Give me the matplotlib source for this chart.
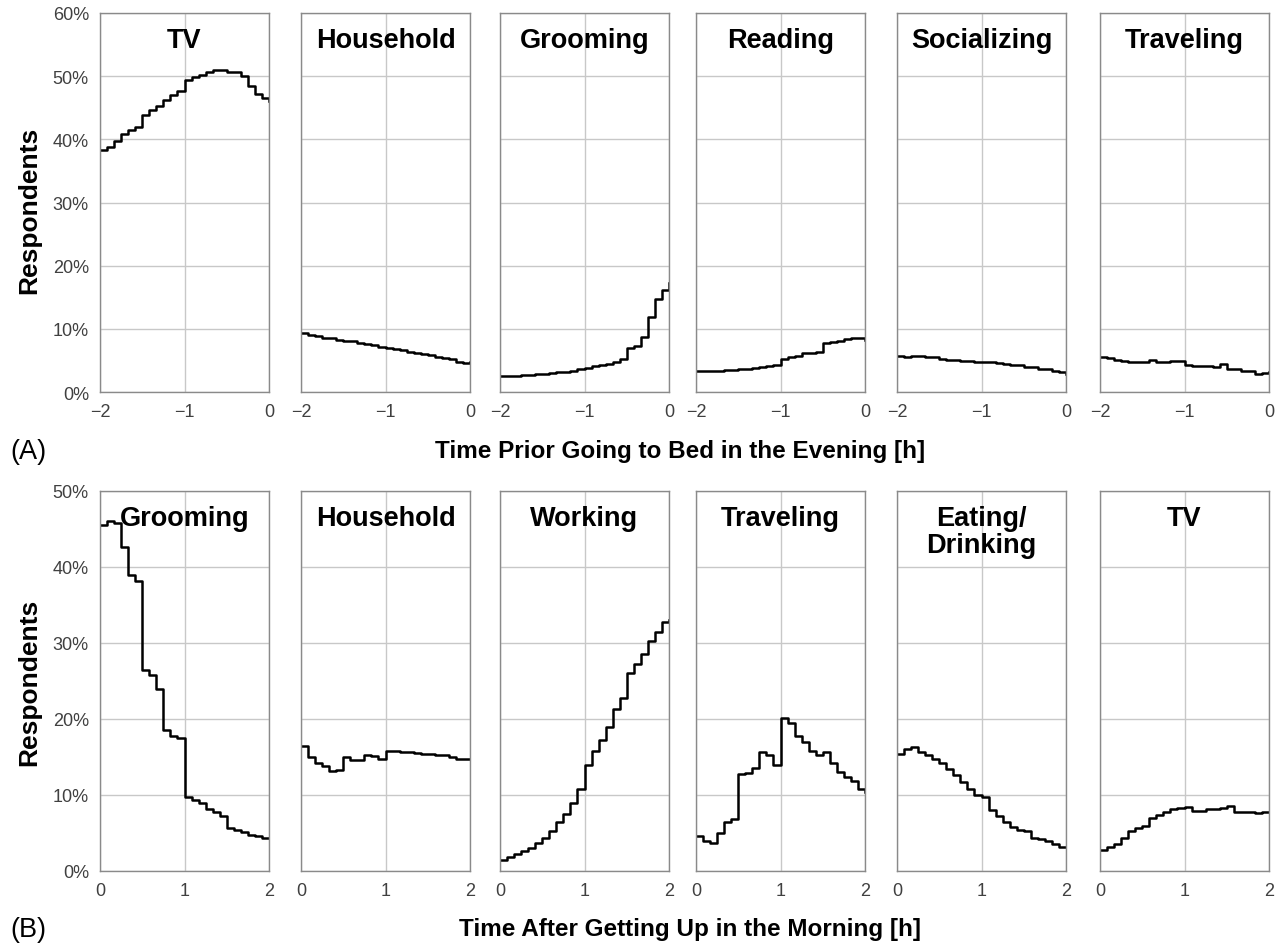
import numpy as np
import matplotlib
matplotlib.use("Agg")
import matplotlib.pyplot as plt
from matplotlib.ticker import FuncFormatter

plt.rcParams["font.family"] = ["Liberation Sans", "DejaVu Sans"]

# share of respondents (%) in 5-minute steps over the two hours
minutes = np.arange(0, 125, 5)

# (A) the two hours before going to bed
eve_titles = ["TV", "Household", "Grooming", "Reading", "Socializing", "Traveling"]
eve_tv = [38.3, 38.8, 39.8, 40.8, 41.5, 42.0, 43.8, 44.6, 45.2, 46.3, 47.0, 47.6,
          49.4, 49.8, 50.2, 50.6, 51.0, 51.0, 50.7, 50.6, 50.0, 48.5, 47.2, 46.5, 46.0]
eve_household = [9.3, 9.0, 8.8, 8.6, 8.5, 8.3, 8.1, 8.0, 7.8, 7.6, 7.4, 7.2,
                 7.0, 6.8, 6.6, 6.4, 6.2, 6.0, 5.9, 5.5, 5.4, 5.2, 4.8, 4.6, 4.8]
eve_grooming = [2.5, 2.5, 2.6, 2.7, 2.7, 2.8, 2.9, 3.0, 3.1, 3.2, 3.4, 3.6,
                3.8, 4.1, 4.3, 4.5, 4.8, 5.2, 6.9, 7.3, 8.7, 11.8, 14.8, 16.2, 17.2]
eve_reading = [3.4, 3.4, 3.4, 3.4, 3.5, 3.5, 3.6, 3.7, 3.8, 4.0, 4.1, 4.3,
               5.3, 5.5, 5.7, 6.1, 6.2, 6.4, 7.8, 7.9, 8.0, 8.4, 8.6, 8.5, 8.2]
eve_socializing = [5.7, 5.6, 5.7, 5.7, 5.6, 5.6, 5.2, 5.1, 5.0, 4.9, 4.9, 4.8,
                   4.7, 4.7, 4.6, 4.5, 4.3, 4.2, 4.0, 3.9, 3.7, 3.6, 3.4, 3.2, 2.9]
eve_traveling = [5.6, 5.4, 5.1, 4.9, 4.7, 4.7, 4.8, 5.0, 4.8, 4.8, 4.9, 4.9,
                 4.2, 4.1, 4.1, 4.1, 4.0, 4.5, 3.6, 3.6, 3.4, 3.3, 2.9, 3.0, 3.2]

# (B) the two hours after getting up
morn_titles = ["Grooming", "Household", "Working", "Traveling", "Eating/\nDrinking", "TV"]
morn_grooming = [45.5, 46.0, 45.8, 42.6, 39.0, 38.2, 26.5, 25.8, 24.0, 18.5, 17.8, 17.5,
                 9.8, 9.4, 9.0, 8.2, 7.7, 7.3, 5.7, 5.4, 5.1, 4.8, 4.6, 4.4, 4.3]
morn_household = [16.4, 15.0, 14.2, 13.8, 13.2, 13.3, 15.0, 14.6, 14.6, 15.3, 15.1, 14.8,
                  15.8, 15.8, 15.7, 15.6, 15.5, 15.4, 15.4, 15.3, 15.2, 15.0, 14.8, 14.7, 14.7]
morn_working = [1.5, 1.8, 2.2, 2.6, 3.0, 3.7, 4.4, 5.3, 6.5, 7.5, 9.0, 10.8,
                14.0, 15.8, 17.2, 19.0, 21.3, 22.7, 26.0, 27.3, 28.5, 30.2, 31.5, 32.7, 33.0]
morn_traveling = [4.6, 4.0, 3.7, 5.0, 6.5, 6.8, 12.8, 12.9, 13.5, 15.6, 15.2, 14.0,
                  20.1, 19.5, 17.8, 17.0, 15.8, 15.2, 15.6, 14.2, 13.0, 12.4, 11.9, 10.8, 10.4]
morn_eating = [15.4, 16.1, 16.3, 15.7, 15.2, 14.8, 14.2, 13.4, 12.6, 11.7, 10.8, 10.0,
               9.8, 8.0, 7.2, 6.4, 5.8, 5.4, 5.2, 4.4, 4.2, 4.0, 3.5, 3.2, 3.2]
morn_tv = [2.8, 3.2, 3.6, 4.3, 5.2, 5.6, 5.9, 7.0, 7.4, 7.8, 8.1, 8.3,
           8.4, 7.9, 7.9, 8.1, 8.2, 8.3, 8.5, 7.7, 7.8, 7.7, 7.6, 7.7, 7.8]

eve_series = [eve_tv, eve_household, eve_grooming, eve_reading, eve_socializing, eve_traveling]
morn_series = [morn_grooming, morn_household, morn_working, morn_traveling, morn_eating, morn_tv]

W, H = 1283, 945
fig = plt.figure(figsize=(W / 100, H / 100), dpi=100)

lefts = [100, 301, 500, 696, 897, 1100]
pw = 169
rows = [
    dict(top=14, bottom=393, ymax=60, x=minutes / 60 - 2, xticks=[-2, -1, 0],
         titles=eve_titles, series=eve_series),
    dict(top=492, bottom=872, ymax=50, x=minutes / 60, xticks=[0, 1, 2],
         titles=morn_titles, series=morn_series),
]

pct = FuncFormatter(lambda v, p: f"{v:.0f}%")

for row in rows:
    for i, (title, ys) in enumerate(zip(row["titles"], row["series"])):
        ax = fig.add_axes([lefts[i] / W, 1 - row["bottom"] / H,
                           pw / W, (row["bottom"] - row["top"]) / H])
        ax.plot(row["x"], ys, drawstyle="steps-post", color="black", lw=1.8)
        ax.set_xlim(row["xticks"][0], row["xticks"][-1])
        ax.set_ylim(0, row["ymax"])
        ax.set_xticks(row["xticks"])
        ax.set_yticks(np.arange(0, row["ymax"] + 1, 10))
        ax.yaxis.set_major_formatter(pct)
        ax.grid(True, color="#c8c8c8", lw=1.0)
        ax.set_axisbelow(True)
        for sp in ax.spines.values():
            sp.set_color("#8a8a8a")
            sp.set_linewidth(1.0)
        ax.tick_params(length=0, labelsize=13, colors="#404040", pad=8)
        if i > 0:
            ax.tick_params(labelleft=False)
        ax.text(0.5, 0.962, title, transform=ax.transAxes, ha="center", va="top",
                fontsize=19.5, fontweight="bold", linespacing=1.05)

fig.text(29 / W, 1 - 210 / H, "Respondents", rotation=90, ha="center", va="center",
         fontsize=19, fontweight="bold")
fig.text(29 / W, 1 - 682 / H, "Respondents", rotation=90, ha="center", va="center",
         fontsize=19, fontweight="bold")

fig.text(680 / W, 1 - 452 / H, "Time Prior Going to Bed in the Evening [h]",
         ha="center", va="center", fontsize=17.5, fontweight="bold")
fig.text(690 / W, 1 - 930 / H, "Time After Getting Up in the Morning [h]",
         ha="center", va="center", fontsize=17.5, fontweight="bold")
fig.text(10 / W, 1 - 452 / H, "(A)", ha="left", va="center", fontsize=19.5)
fig.text(10 / W, 1 - 930 / H, "(B)", ha="left", va="center", fontsize=19.5)

fig.savefig("out.png", dpi=100)
